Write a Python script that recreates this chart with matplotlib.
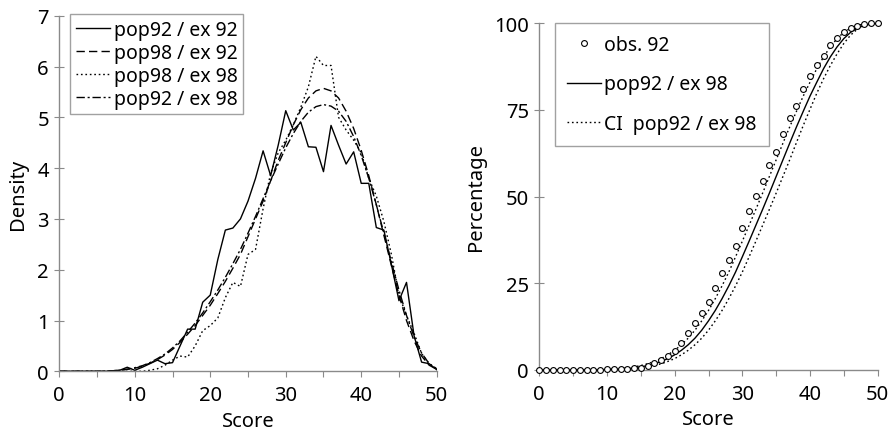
import numpy as np
import matplotlib
matplotlib.use("Agg")
import matplotlib.pyplot as plt

plt.rcParams['font.family'] = ['Noto Sans', 'DejaVu Sans']
plt.rcParams['font.size'] = 14.5

# scores 0..50 (one point per integer score)
score = list(range(51))

# --- left panel: densities ---
pop92_ex92 = [0, 0, 0, 0, 0, 0, 0, 0.01, 0.02, 0.08,
              0.02, 0.08, 0.15, 0.22, 0.15, 0.17, 0.5, 0.83, 0.83, 1.36,
              1.5, 2.2, 2.78, 2.82, 3.0, 3.35, 3.8, 4.34, 3.85, 4.45,
              5.13, 4.75, 4.9, 4.42, 4.41, 3.93, 4.84, 4.45, 4.08, 4.32,
              3.7, 3.7, 2.83, 2.78, 2.1, 1.39, 1.75, 0.7, 0.18, 0.15, 0.03]
pop98_ex92 = [0, 0, 0, 0, 0, 0, 0, 0.01, 0.02, 0.04,
              0.06, 0.1, 0.16, 0.23, 0.32, 0.43, 0.57, 0.73, 0.9, 1.1,
              1.3, 1.53, 1.77, 2.03, 2.3, 2.65, 3.0, 3.35, 3.75, 4.15,
              4.5, 4.85, 5.15, 5.38, 5.52, 5.57, 5.52, 5.38, 5.12, 4.78,
              4.35, 3.85, 3.28, 2.68, 2.08, 1.5, 1.0, 0.6, 0.3, 0.12, 0.04]
pop98_ex98 = [0, 0, 0, 0, 0, 0, 0, 0, 0, 0,
              0, 0, 0.02, 0.05, 0.12, 0.22, 0.3, 0.28, 0.5, 0.8,
              0.9, 1.05, 1.45, 1.75, 1.67, 2.3, 2.4, 3.2, 3.9, 4.3,
              4.55, 4.85, 5.2, 5.6, 6.2, 6.02, 6.02, 5.0, 4.75, 4.55,
              4.3, 3.8, 3.45, 2.95, 2.3, 1.5, 1.1, 0.75, 0.35, 0.15, 0.05]
pop92_ex98 = [0, 0, 0, 0, 0, 0, 0, 0.01, 0.02, 0.04,
              0.07, 0.11, 0.17, 0.25, 0.34, 0.46, 0.6, 0.77, 0.95, 1.15,
              1.37, 1.6, 1.85, 2.12, 2.4, 2.72, 3.05, 3.4, 3.75, 4.08,
              4.4, 4.68, 4.92, 5.1, 5.21, 5.25, 5.22, 5.12, 4.92, 4.62,
              4.25, 3.8, 3.28, 2.72, 2.15, 1.6, 1.1, 0.68, 0.36, 0.15, 0.05]

# --- right panel: cumulative percentages ---
obs92 = [0, 0, 0, 0, 0, 0, 0, 0, 0, 0,
         0.1, 0.1, 0.2, 0.3, 0.4, 0.6, 1.0, 1.8, 2.8, 4.0,
         5.5, 7.7, 10.5, 13.4, 16.4, 19.6, 23.5, 27.9, 31.7, 35.8,
         41.0, 45.7, 50.2, 54.6, 59.2, 62.9, 68.0, 72.6, 76.2, 81.0,
         84.7, 87.9, 90.7, 93.6, 95.7, 97.4, 98.6, 99.3, 99.8, 100, 100]
fit92_98 = [0, 0, 0, 0, 0, 0, 0, 0, 0, 0,
            0.05, 0.1, 0.2, 0.3, 0.5, 0.8, 1.2, 1.7, 2.4, 3.2,
            4.3, 5.6, 7.2, 9.1, 11.4, 14.1, 17.1, 20.5, 24.2, 28.2,
            32.6, 37.1, 41.7, 46.3, 51.0, 55.8, 60.6, 65.4, 70.1, 74.6,
            79.0, 83.0, 86.9, 90.3, 93.2, 95.6, 97.4, 98.6, 99.4, 99.8, 100]
ci_low = [0, 0, 0, 0, 0, 0, 0, 0, 0, 0,
          0, 0.05, 0.1, 0.2, 0.3, 0.5, 0.8, 1.2, 1.7, 2.4,
          3.2, 4.3, 5.6, 7.2, 9.1, 11.4, 14.1, 17.1, 20.5, 24.2,
          28.2, 32.6, 37.1, 41.7, 46.3, 51.0, 55.8, 60.6, 65.6, 70.5,
          75.2, 79.8, 84.0, 87.8, 91.2, 94.2, 96.6, 98.3, 99.3, 99.8, 100]
ci_high = [0, 0, 0, 0, 0, 0, 0, 0, 0, 0,
           0.1, 0.2, 0.3, 0.5, 0.8, 1.2, 1.7, 2.4, 3.2, 4.3,
           5.6, 7.2, 9.1, 11.4, 14.1, 17.1, 20.5, 24.2, 28.2, 32.6,
           37.1, 41.7, 46.3, 51.0, 55.8, 60.6, 65.4, 70.1, 74.6, 79.0,
           83.0, 86.9, 90.3, 93.2, 95.6, 97.4, 98.6, 99.4, 99.8, 100, 100]

W, H = 894, 431
fig = plt.figure(figsize=(W / 100, H / 100), dpi=100)
ax1 = fig.add_axes([59.3 / W, (H - 372.3) / H, 377.4 / W, 355.6 / H])
ax2 = fig.add_axes([539.3 / W, (H - 370.7) / H, 338.4 / W, 346.4 / H])

grey = '#8a8a8a'
lw = 1.0

ax1.plot(score, pop92_ex92, color='k', lw=lw, label='pop92 / ex 92')
ax1.plot(score, pop98_ex92, color='k', lw=lw, dashes=(6, 3), label='pop98 / ex 92')
ax1.plot(score, pop98_ex98, color='k', lw=lw, dashes=(1.2, 2), label='pop98 / ex 98')
ax1.plot(score, pop92_ex98, color='k', lw=lw, dashes=(6, 2, 1.5, 2), label='pop92 / ex 98')
ax1.set_xlim(0, 50)
ax1.set_ylim(0, 7)
ax1.set_xticks(range(0, 51, 5))
ax1.set_xticklabels([str(v) if v % 10 == 0 else '' for v in range(0, 51, 5)])
ax1.set_yticks(range(0, 8))
ax1.set_xlabel('Score', labelpad=4)
ax1.set_ylabel('Density', labelpad=7)
leg1 = ax1.legend(loc='upper left', bbox_to_anchor=(0.028, 1.005), handlelength=1.75,
                  handletextpad=0.2, labelspacing=0.15, borderpad=0.3,
                  fancybox=False, frameon=True, borderaxespad=0, fontsize=14)
leg1.get_frame().set_edgecolor(grey)
leg1.get_frame().set_linewidth(1.0)

ax2.plot(score, obs92, linestyle='none', marker='o', ms=4.2, mfc='white', mec='k',
         mew=0.8, clip_on=False, zorder=3, label='obs. 92')
ax2.plot(score, fit92_98, color='k', lw=lw, label='pop92 / ex 98')
ax2.plot(score, ci_low, color='k', lw=lw, dashes=(1.2, 2), label='CI  pop92 / ex 98')
ax2.plot(score, ci_high, color='k', lw=lw, dashes=(1.2, 2))
ax2.set_xlim(0, 50)
ax2.set_ylim(0, 100)
ax2.set_xticks(range(0, 51, 5))
ax2.set_xticklabels([str(v) if v % 10 == 0 else '' for v in range(0, 51, 5)])
ax2.set_yticks([0, 25, 50, 75, 100])
ax2.set_xlabel('Score', labelpad=4)
ax2.set_ylabel('Percentage', labelpad=6)
leg2 = ax2.legend(loc='upper left', bbox_to_anchor=(0.046, 1.0), handlelength=1.75,
                  handletextpad=0.2, labelspacing=1.0, borderpad=0.6,
                  fancybox=False, frameon=True, borderaxespad=0, fontsize=14)
leg2.get_frame().set_edgecolor(grey)
leg2.get_frame().set_linewidth(1.0)

for ax in (ax1, ax2):
    for side in ('top', 'right'):
        ax.spines[side].set_visible(False)
    for side in ('left', 'bottom'):
        ax.spines[side].set_color(grey)
        ax.spines[side].set_linewidth(1.0)
    ax.tick_params(axis='x', direction='out', length=4, color=grey, pad=6)
    ax.tick_params(axis='y', direction='inout', length=7, color=grey, pad=4)

fig.savefig('out.png', dpi=100)
